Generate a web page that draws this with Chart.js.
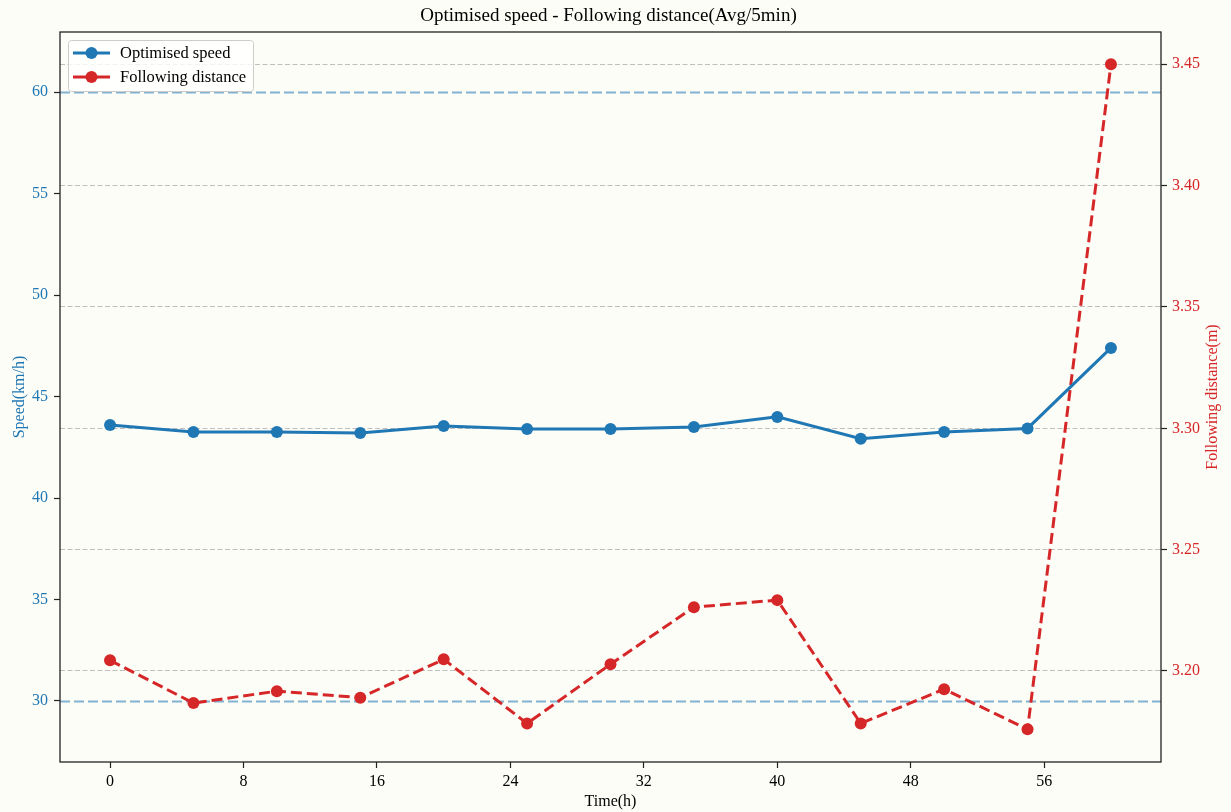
<!DOCTYPE html>
<html>
<head>
<meta charset="utf-8">
<title>Optimised speed - Following distance</title>
<script src="https://cdn.jsdelivr.net/npm/chart.js@4/dist/chart.umd.min.js"></script>
<style>
  html, body { margin: 0; padding: 0; background: #fdfdf8; }
  #wrap { width: 1231px; height: 812px; }
  canvas { display: block; }
</style>
</head>
<body>
<div id="wrap"><canvas id="chart" width="1231" height="812"></canvas></div>
<script>
// Averages over 5-minute windows
const times = [0, 5, 10, 15, 20, 25, 30, 35, 40, 45, 50, 55, 60];
const speed = [43.60, 43.25, 43.25, 43.20, 43.55, 43.40, 43.40, 43.50, 44.00, 42.92, 43.25, 43.43, 47.40];
const distance = [3.2044, 3.1868, 3.1917, 3.1890, 3.2048, 3.1784, 3.2028, 3.2263, 3.2292, 3.1784, 3.1925, 3.1760, 3.4500];

const timeTicks = [0, 8, 16, 24, 32, 40, 48, 56];
const speedTicks = [30, 35, 40, 45, 50, 55, 60];
const distanceTicks = [3.20, 3.25, 3.30, 3.35, 3.40, 3.45];
const speedLimits = [30, 60];

const titleText = 'Optimised speed - Following distance(Avg/5min)';
const BLUE = '#1f77b4';
const RED = '#d62728';
const SERIF = "'Liberation Serif', 'Times New Roman', serif";

const toPoints = (xs, ys) => xs.map((x, i) => ({ x: x, y: ys[i] }));
const fixedTicks = list => scale => { scale.ticks = list.map(v => ({ value: v })); };

// Title, speed limit lines, frame, right-hand axis label and legend
const decorations = {
  id: 'decorations',
  beforeDatasetsDraw(chart) {
    const { ctx, chartArea: a, scales } = chart;
    ctx.save();
    ctx.strokeStyle = 'rgba(31,119,180,0.55)';
    ctx.lineWidth = 2;
    ctx.setLineDash([10, 4]);
    speedLimits.forEach(v => {
      const y = Math.round(scales.y.getPixelForValue(v)) + 0.5;
      ctx.beginPath();
      ctx.moveTo(a.left, y);
      ctx.lineTo(a.right, y);
      ctx.stroke();
    });
    ctx.restore();
  },
  afterDraw(chart) {
    const { ctx, chartArea: a } = chart;
    ctx.save();
    // frame
    ctx.strokeStyle = '#222';
    ctx.lineWidth = 1.3;
    ctx.setLineDash([]);
    ctx.strokeRect(a.left, a.top, a.right - a.left, a.bottom - a.top);

    // title
    ctx.fillStyle = '#000';
    ctx.font = '19px ' + SERIF;
    ctx.textAlign = 'center';
    ctx.textBaseline = 'middle';
    ctx.fillText(titleText, (a.left + a.right) / 2 - 2, 16);

    // right axis label, reading bottom to top
    ctx.save();
    ctx.translate(1213, (a.top + a.bottom) / 2);
    ctx.rotate(-Math.PI / 2);
    ctx.fillStyle = RED;
    ctx.font = '16px ' + SERIF;
    ctx.fillText('Following distance(m)', 0, 0);
    ctx.restore();

    // legend
    const lx = a.left + 8, ly = a.top + 8, lw = 185, lh = 51;
    ctx.fillStyle = 'rgba(255,255,255,0.8)';
    ctx.strokeStyle = '#cccccc';
    ctx.lineWidth = 1;
    ctx.beginPath();
    ctx.roundRect(lx + 0.5, ly + 0.5, lw, lh, 3);
    ctx.fill();
    ctx.stroke();
    const entries = [
      { label: 'Optimised speed', color: BLUE },
      { label: 'Following distance', color: RED }
    ];
    entries.forEach((e, i) => {
      const y = ly + 13 + i * 24;
      ctx.strokeStyle = e.color;
      ctx.lineWidth = 3;
      ctx.beginPath();
      ctx.moveTo(lx + 5, y);
      ctx.lineTo(lx + 42, y);
      ctx.stroke();
      ctx.fillStyle = e.color;
      ctx.beginPath();
      ctx.arc(lx + 23.5, y, 6, 0, Math.PI * 2);
      ctx.fill();
      ctx.fillStyle = '#000';
      ctx.font = '16.5px ' + SERIF;
      ctx.textAlign = 'left';
      ctx.textBaseline = 'middle';
      ctx.fillText(e.label, lx + 52, y + 1);
    });
    ctx.restore();
  }
};

new Chart(document.getElementById('chart'), {
  type: 'line',
  data: {
    datasets: [
      {
        label: 'Optimised speed',
        data: toPoints(times, speed),
        yAxisID: 'y',
        borderColor: BLUE,
        backgroundColor: BLUE,
        borderWidth: 3,
        pointRadius: 6,
        pointBorderWidth: 0,
        tension: 0
      },
      {
        label: 'Following distance',
        data: toPoints(times, distance),
        yAxisID: 'y1',
        borderColor: RED,
        backgroundColor: RED,
        borderWidth: 3,
        borderDash: [11, 5],
        pointRadius: 6,
        pointBorderWidth: 0,
        tension: 0
      }
    ]
  },
  options: {
    responsive: false,
    animation: false,
    events: [],
    layout: { padding: { top: 32, left: 0, right: 0, bottom: 0 } },
    plugins: { legend: { display: false }, title: { display: false }, tooltip: { enabled: false } },
    scales: {
      x: {
        type: 'linear',
        min: -3,
        max: 63,
        afterBuildTicks: fixedTicks(timeTicks),
        afterFit: s => { s.height = 50; },
        grid: { drawOnChartArea: false, tickLength: 6, tickColor: '#222', tickWidth: 1.2 },
        border: { display: false },
        ticks: { color: '#000', padding: 4, font: { family: SERIF, size: 16 }, maxRotation: 0 },
        title: { display: true, text: 'Time(h)', color: '#000', font: { family: SERIF, size: 16 }, padding: { top: 0, bottom: 1 } }
      },
      y: {
        position: 'left',
        min: 26.99,
        max: 62.97,
        afterBuildTicks: fixedTicks(speedTicks),
        afterFit: s => { s.width = 60; },
        grid: { drawOnChartArea: false, tickLength: 6, tickColor: '#222', tickWidth: 1.2 },
        border: { display: false },
        ticks: { color: BLUE, padding: 6, font: { family: SERIF, size: 16 } },
        title: { display: true, text: 'Speed(km/h)', color: BLUE, font: { family: SERIF, size: 16 }, padding: { top: 10, bottom: 0 } }
      },
      y1: {
        position: 'right',
        min: 3.1625,
        max: 3.4633,
        afterBuildTicks: fixedTicks(distanceTicks),
        afterFit: s => { s.width = 70; },
        grid: { drawOnChartArea: true, color: 'rgba(150,150,150,0.6)', lineWidth: 1, tickLength: 6, tickColor: '#222', tickWidth: 1.2, tickBorderDash: [] },
        border: { display: false, dash: [5, 2.5] },
        ticks: { color: RED, padding: 5, font: { family: SERIF, size: 16 }, callback: v => v.toFixed(2) }
      }
    }
  },
  plugins: [decorations]
});
</script>
</body>
</html>
